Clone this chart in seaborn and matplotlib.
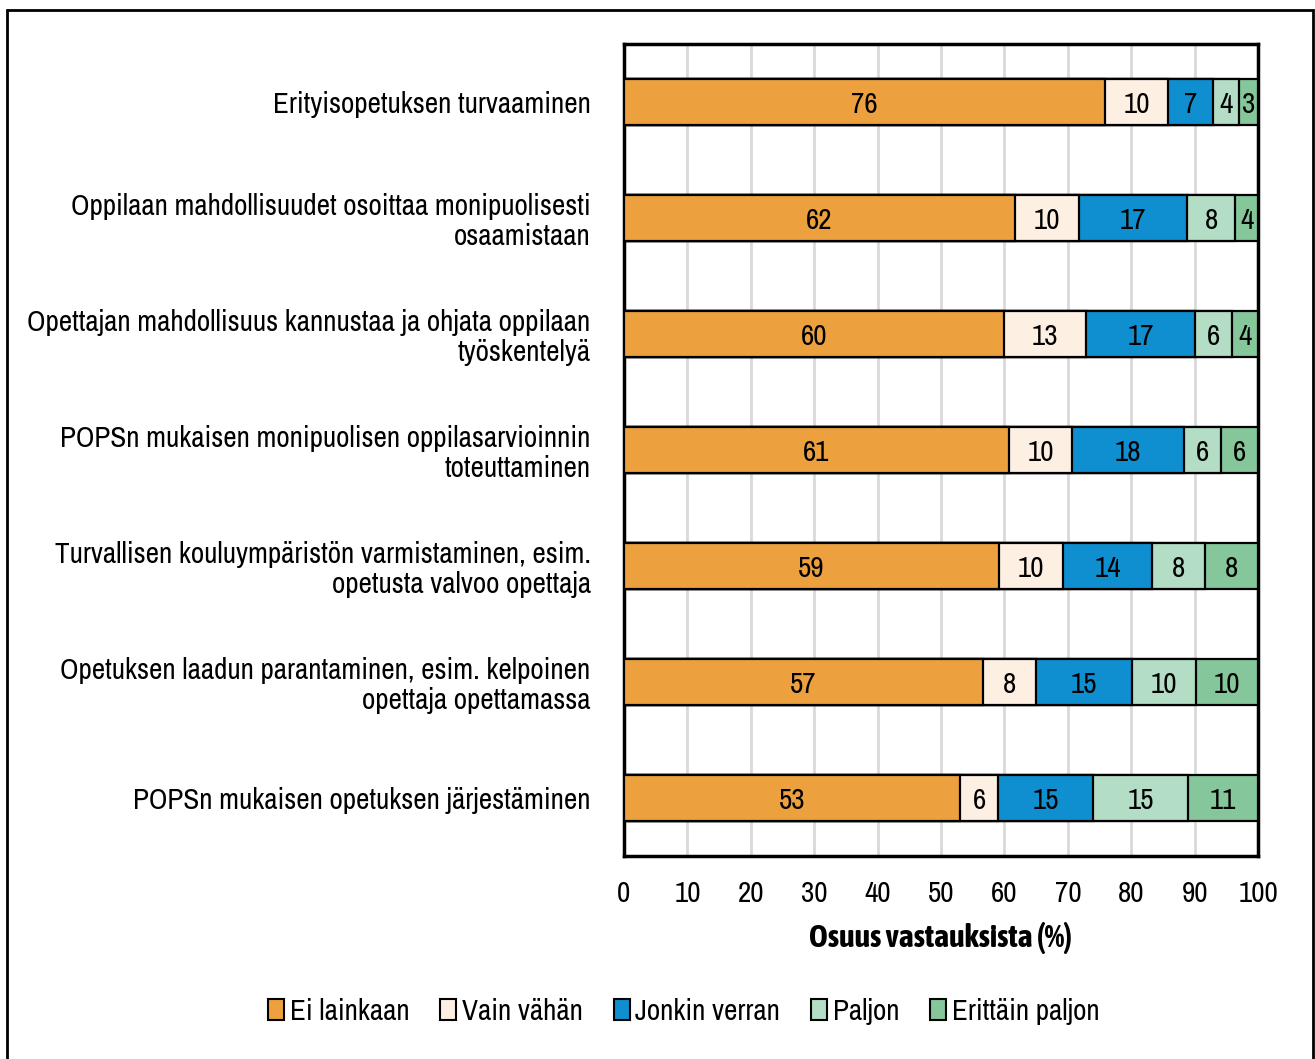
import pandas as pd
import matplotlib
matplotlib.use("Agg")
import matplotlib.pyplot as plt
from matplotlib.patches import Patch, Rectangle
from matplotlib import font_manager
import seaborn as sns

# vastausten jakauma (%) kohteittain, luettu kuvasta
kohteet = [
    "Erityisopetuksen turvaaminen",
    "Oppilaan mahdollisuudet osoittaa monipuolisesti\nosaamistaan",
    "Opettajan mahdollisuus kannustaa ja ohjata oppilaan\ntyöskentelyä",
    "POPSn mukaisen monipuolisen oppilasarvioinnin\ntoteuttaminen",
    "Turvallisen kouluympäristön varmistaminen, esim.\nopetusta valvoo opettaja",
    "Opetuksen laadun parantaminen, esim. kelpoinen\nopettaja opettamassa",
    "POPSn mukaisen opetuksen järjestäminen",
]
ei_lainkaan = [75.9, 61.7, 59.9, 60.7, 59.1, 56.6, 53.0]
vain_vahan = [9.9, 10.1, 13.0, 10.0, 10.1, 8.4, 6.0]
jonkin_verran = [7.1, 17.0, 17.2, 17.6, 14.1, 15.1, 15.0]
paljon = [4.1, 7.6, 5.8, 5.9, 8.3, 10.1, 15.0]
erittain_paljon = [3.0, 3.6, 4.1, 5.8, 8.4, 9.8, 11.0]

sarjat = ["Ei lainkaan", "Vain vähän", "Jonkin verran", "Paljon", "Erittäin paljon"]
varit = ["#EDA13E", "#FDEFE2", "#0F8FD0", "#B3DDC4", "#85C79A"]

df = pd.DataFrame({
    "kohde": kohteet,
    "Ei lainkaan": ei_lainkaan,
    "Vain vähän": vain_vahan,
    "Jonkin verran": jonkin_verran,
    "Paljon": paljon,
    "Erittäin paljon": erittain_paljon,
})
cum = df[sarjat].cumsum(axis=1)

sns.set_style("white")
names = {f.name for f in font_manager.fontManager.ttflist}
fontti = "Liberation Sans"
fs = 17
for ehdokas in ["Liberation Sans Narrow", "Arial Narrow", "Archivo Narrow"]:
    if ehdokas in names:
        fontti = ehdokas
        fs = 21
        break
# lihavoitu otsikko: kapea fontti jossa on bold
bold_fontti = fontti
bold_fs = fs
for ehdokas in ["Liberation Sans Narrow", "Arial Narrow", "Asap Condensed"]:
    if ehdokas in names:
        bold_fontti = ehdokas
        bold_fs = fs if ehdokas != "Asap Condensed" else 23
        break
plt.rcParams["font.family"] = [fontti, "DejaVu Sans"]
plt.rcParams["text.color"] = "black"
plt.rcParams["xtick.color"] = "black"
plt.rcParams["ytick.color"] = "black"
plt.rcParams["axes.labelcolor"] = "black"

fig = plt.figure(figsize=(13.15, 10.59), dpi=100)
ax = fig.add_axes([0.4745, 0.1917, 0.4822, 0.7668])

# pinotut palkit: piirretään kumulatiiviset summat takaperin
for s, c in reversed(list(zip(sarjat, varit))):
    plot_df = pd.DataFrame({"kohde": kohteet, "arvo": cum[s]})
    sns.barplot(data=plot_df, x="arvo", y="kohde", order=kohteet, orient="h",
                color=c, saturation=1, width=0.39, edgecolor="black",
                linewidth=1.6, ax=ax, zorder=3)

for i in range(len(kohteet)):
    left = 0
    for s in sarjat:
        v = df.loc[i, s]
        ax.text(left + v / 2, i + 0.02, f"{v:.0f}", ha="center", va="center",
                fontsize=fs, color="black", zorder=5)
        left += v

ax.set_xlim(0, 100)
ax.set_ylim(6.5, -0.5)
ax.set_xticks(range(0, 101, 10))
ax.grid(axis="x", color="#D9D9D9", linewidth=2, zorder=0)
ax.grid(axis="y", visible=False)
ax.set_axisbelow(True)
for sp in ax.spines.values():
    sp.set_visible(True)
    sp.set_color("black")
    sp.set_linewidth(2.5)
ax.tick_params(axis="both", length=0, labelsize=fs, colors="black")
ax.tick_params(axis="x", pad=17)
ax.tick_params(axis="y", pad=24)
ax.set_ylabel("")
ax.set_xlabel("Osuus vastauksista (%)", fontsize=bold_fs, fontweight="bold",
              family=[bold_fontti, "DejaVu Sans"], labelpad=11)
for lab in ax.get_yticklabels():
    lab.set_linespacing(1.12)

handles = [Patch(facecolor=c, edgecolor="black", linewidth=1.5, label=s)
           for s, c in zip(sarjat, varit)]
fig.legend(handles=handles, loc="center", bbox_to_anchor=(0.52, 0.045), ncol=5,
           frameon=False, fontsize=fs, handlelength=0.55, handleheight=0.7,
           handletextpad=0.2, columnspacing=1.05)

fig.add_artist(Rectangle((7 / 1315, -0.02), 1306 / 1315, 0.9906 + 0.02,
                         transform=fig.transFigure, fill=False,
                         edgecolor="black", linewidth=2))

fig.savefig("out.png", dpi=100)
